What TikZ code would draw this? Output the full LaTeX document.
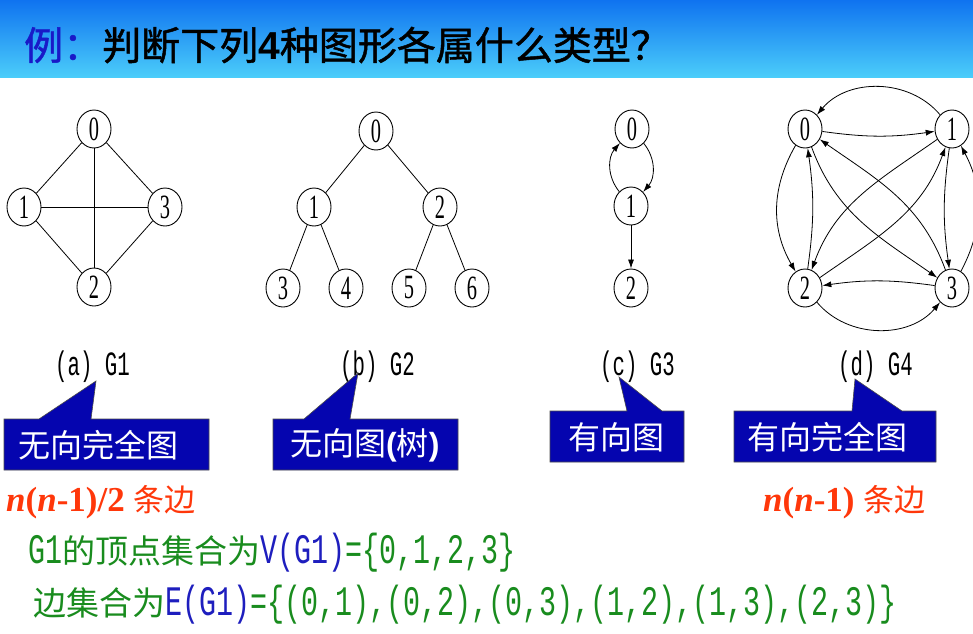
\documentclass[tikz,border=0pt]{standalone}
\usepackage{fontspec}
\setmainfont{Liberation Serif}
\newfontfamily\cjk{Noto Sans CJK SC}
\newfontfamily\cjkt[FakeBold=1.2]{Noto Sans CJK SC}
\newfontfamily\sansb{Liberation Sans}
\newfontfamily\digf[FakeStretch=0.6]{Liberation Serif}
\newfontfamily\monof[FakeStretch=0.675]{Liberation Mono}
\newfontfamily\lblf[FakeStretch=0.61]{Liberation Mono}
\usetikzlibrary{shapes.geometric,arrows.meta}
\definecolor{barTop}{RGB}{15,115,240}
\definecolor{barBot}{RGB}{75,205,250}
\definecolor{tblue}{RGB}{25,25,200}
\definecolor{cbox}{RGB}{5,5,175}
\definecolor{redt}{RGB}{255,55,10}
\definecolor{gtext}{RGB}{25,140,30}
\definecolor{btext}{RGB}{30,30,190}
\tikzset{
  gnode/.style={ellipse,draw,line width=0.9pt,minimum width=34pt,minimum height=38pt,inner sep=0pt,
    font=\digf\fontsize{34}{34}\selectfont},
  gedge/.style={line width=0.8pt},
  garrow/.style={line width=0.8pt,-{Latex[length=9pt,width=6pt]}},
  lbl/.style={inner sep=0pt,anchor=west,font=\lblf\fontsize{34}{34}\selectfont},
  callout/.style={fill=cbox,draw=black!70,line width=0.6pt},
  ctext/.style={inner sep=0pt,anchor=west,text=white,font=\cjk\fontsize{32}{32}\selectfont},
  txt/.style={inner sep=0pt,anchor=west}
}
\begin{document}
\begin{tikzpicture}[x=1pt,y=-1pt]
\useasboundingbox (0,0) rectangle (973,633);
\fill[white] (0,0) rectangle (973,633);
\shade[top color=barTop,bottom color=barBot] (0,0) rectangle (973,77);
\node[txt] (title) at (24,45) {\cjkt\fontsize{39}{41}\selectfont\textcolor{tblue}{例：}判断下列{\sansb\bfseries 4}种图形各属什么类型？};

% G1
\node[gnode] (a0) at (94,129) {0};
\node[gnode] (a1) at (24,207) {1};
\node[gnode] (a3) at (165,207) {3};
\node[gnode] (a2) at (94,287) {2};
\draw[gedge] (a0) -- (a1);
\draw[gedge] (a0) -- (a3);
\draw[gedge] (a0) -- (a2);
\draw[gedge] (a1) -- (a3);
\draw[gedge] (a1) -- (a2);
\draw[gedge] (a3) -- (a2);

% G2
\node[gnode] (b0) at (376,131) {0};
\node[gnode] (b1) at (314,207) {1};
\node[gnode] (b2) at (440,207) {2};
\node[gnode] (b3) at (283,288) {3};
\node[gnode] (b4) at (346,288) {4};
\node[gnode] (b5) at (409,288) {5};
\node[gnode] (b6) at (472,288) {6};
\draw[gedge] (b0) -- (b1);
\draw[gedge] (b0) -- (b2);
\draw[gedge] (b1) -- (b3);
\draw[gedge] (b1) -- (b4);
\draw[gedge] (b2) -- (b5);
\draw[gedge] (b2) -- (b6);

% G3
\node[gnode] (c0) at (632,129) {0};
\node[gnode] (c1) at (631,206) {1};
\node[gnode] (c2) at (631,288) {2};
\draw[garrow] (c1) to[bend left=40] (c0);
\draw[garrow] (c0) to[bend left=40] (c1);
\draw[garrow] (c1) -- (c2);

% G4
\node[gnode] (d0) at (805,129) {0};
\node[gnode] (d1) at (952,129) {1};
\node[gnode] (d2) at (805,288) {2};
\node[gnode] (d3) at (952,288) {3};
\draw[garrow] (d1) to[bend right=50] (d0);
\draw[garrow] (d0) to[bend right=8] (d1);
\draw[garrow] (d2) to[bend right=50] (d3);
\draw[garrow] (d3) to[bend right=8] (d2);
\draw[garrow] (d0) to[bend right=30] (d2);
\draw[garrow] (d2) to[bend right=8] (d0);
\draw[garrow] (d3) to[bend right=28] (d1);
\draw[garrow] (d1) to[bend right=8] (d3);
\draw[garrow] (d0) to[out=-70,in=145] (d3);
\draw[garrow] (d3) to[out=110,in=-35] (d0);
\draw[garrow] (d1) to[out=215,in=70] (d2);
\draw[garrow] (d2) to[out=35,in=-110] (d1);

% labels
\node[lbl] (la) at (55,367) {(a) G1};
\node[lbl] (lb) at (340,367) {(b) G2};
\node[lbl] (lc) at (600,367) {(c) G3};
\node[lbl] (ld) at (838,367) {(d) G4};

% callouts
\filldraw[callout] (4,419) -- (39,419) -- (96,381) -- (91,419) -- (209,419) -- (209,470) -- (4,470) -- cycle;
\node[ctext] (ca) at (18,445) {无向完全图};
\filldraw[callout] (273,419) -- (304,419) -- (358,373) -- (350,419) -- (458,419) -- (458,470) -- (273,470) -- cycle;
\node[ctext] (cb) at (290,445) {无向图{\sansb\bfseries(}树{\sansb\bfseries)}};
\filldraw[callout] (550,411) -- (627,411) -- (619,377) -- (662,411) -- (684,411) -- (684,462) -- (550,462) -- cycle;
\node[ctext] (cc) at (568,437) {有向图};
\filldraw[callout] (734,411) -- (852,411) -- (855,379) -- (902,411) -- (936,411) -- (936,462) -- (734,462) -- cycle;
\node[ctext] (cd) at (747,437) {有向完全图};

% red texts
\node[txt,text=redt] (r1) at (6,502) {\fontsize{35}{35}\selectfont\bfseries\textit{n}(\textit{n}-1)/2 {\cjk\mdseries\fontsize{31}{31}\selectfont 条边}};
\node[txt,text=redt] (r2) at (763,502) {\fontsize{35}{35}\selectfont\bfseries\textit{n}(\textit{n}-1) {\cjk\mdseries\fontsize{31}{31}\selectfont 条边}};

% green texts
\node[txt,text=gtext] (g1) at (28,553) {\monof\fontsize{42}{42}\selectfont G1{\cjk\fontsize{33}{33}\selectfont 的顶点集合为}\textcolor{btext}{V(G1)}=\{0,1,2,3\}};
\node[txt,text=gtext] (g2) at (33,605) {{\cjk\fontsize{33}{33}\selectfont 边集合为}\monof\fontsize{42}{42}\selectfont\textcolor{btext}{E(G1)}=\{(0,1),(0,2),(0,3),(1,2),(1,3),(2,3)\}};
\end{tikzpicture}
\end{document}
